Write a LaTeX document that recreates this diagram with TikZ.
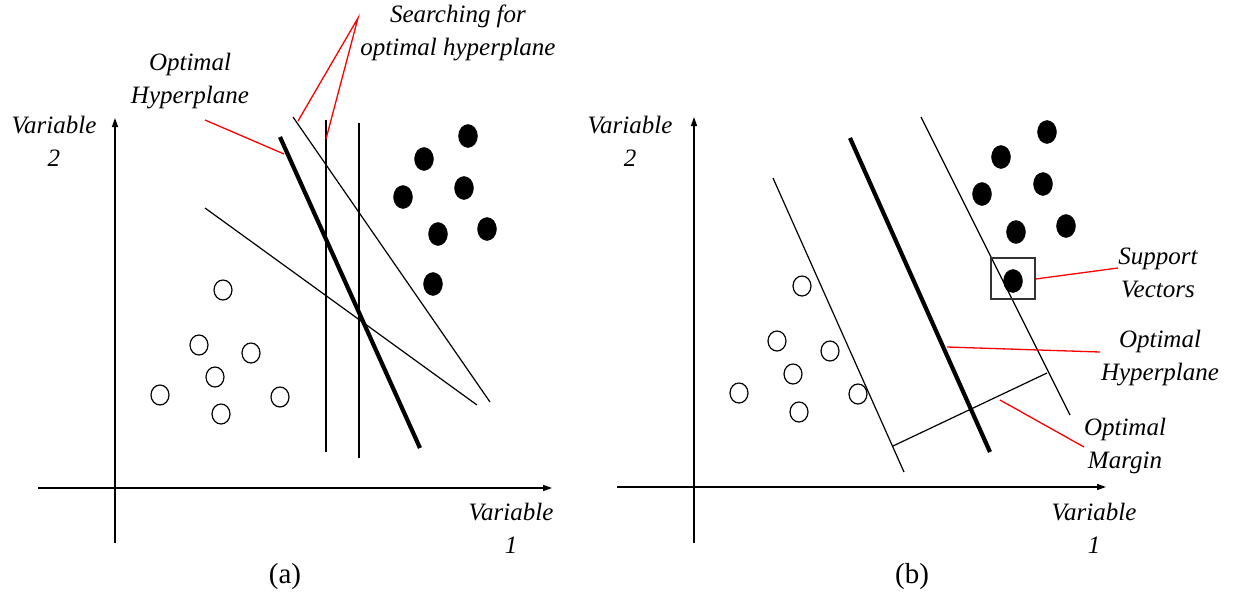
\documentclass[tikz,border=0pt]{standalone}
\usepackage{fontspec}
\setmainfont{Liberation Serif}
\usetikzlibrary{arrows.meta,shapes.geometric}
\begin{document}
\begin{tikzpicture}[x=1pt,y=-1pt,
  axis/.style={line width=1.4pt,-{Triangle[length=9pt,width=6pt]}},
  thinline/.style={line width=1.2pt},
  thickline/.style={line width=4.2pt},
  leader/.style={red,line width=1.3pt},
  lbl/.style={font=\fontsize{25}{33}\selectfont\itshape,align=center,inner sep=0pt},
  captxt/.style={font=\fontsize{29}{33}\selectfont,inner sep=0pt},
  posdot/.style={fill=black,draw=black,ellipse,minimum width=19pt,minimum height=23pt,inner sep=0pt},
  negdot/.style={draw=black,line width=1.2pt,ellipse,minimum width=18pt,minimum height=20pt,inner sep=0pt}]
\useasboundingbox[fill=white] (0,0) rectangle (1235,595);

% ---------- panel (a) ----------
\coordinate (ay0) at (115,543); \coordinate (ay1) at (115,118);
\coordinate (ax0) at (38,488); \coordinate (ax1) at (552,488);
\draw[axis] (ay0) -- (ay1);
\draw[axis] (ax0) -- (ax1);

\coordinate (aT1) at (280,137); \coordinate (aT2) at (420,448);
\draw[thickline] (aT1) -- (aT2);
\coordinate (aS1) at (293,117); \coordinate (aS2) at (490,402);
\draw[thinline] (aS1) -- (aS2);
\coordinate (aV1) at (326,120); \coordinate (aV2) at (326,452);
\draw[thinline] (aV1) -- (aV2);
\coordinate (aW1) at (359,123); \coordinate (aW2) at (359,458);
\draw[thinline] (aW1) -- (aW2);
\coordinate (aD1) at (205,208); \coordinate (aD2) at (477,405);
\draw[thinline] (aD1) -- (aD2);

\foreach \n/\x/\y in {a1/468/136,a2/424/159,a3/464/188,a4/403/197,a5/438/234,a6/487/229,a7/433/284}
  \node[posdot] (\n) at (\x,\y) {};
\foreach \n/\x/\y in {ao1/223/290,ao2/199/345,ao3/251/353,ao4/215/377,ao5/160/395,ao6/280/397,ao7/221/414}
  \node[negdot] (\n) at (\x,\y) {};

\node[lbl] (av2) at (54,141) {Variable\\2};
\node[lbl] (av1) at (511,528) {Variable\\1};
\node[captxt] (capa) at (285,577) {(a)};
\node[lbl] (aopt) at (190,81) {Optimal\\Hyperplane};
\node[lbl] (asrch) at (458,33) {Searching for\\optimal hyperplane};

\coordinate (aoptL) at (205,120); \coordinate (aoptE) at (284,154);
\draw[leader] (aoptL) -- (aoptE);
\coordinate (asr) at (358,18);
\coordinate (asrA) at (298,121); \coordinate (asrB) at (326,139);
\draw[leader] (asrA) -- (asr) -- (asrB);

% ---------- panel (b) ----------
\coordinate (by0) at (694,543); \coordinate (by1) at (694,117);
\coordinate (bx0) at (617,487); \coordinate (bx1) at (1106,487);
\draw[axis] (by0) -- (by1);
\draw[axis] (bx0) -- (bx1);

\coordinate (bL1) at (773,178); \coordinate (bL2) at (904,472);
\draw[thinline] (bL1) -- (bL2);
\coordinate (bT1) at (850,138); \coordinate (bT2) at (990,452);
\draw[thickline] (bT1) -- (bT2);
\coordinate (bR1) at (921,117); \coordinate (bR2) at (1070,415);
\draw[thinline] (bR1) -- (bR2);
\coordinate (bM1) at (893,446); \coordinate (bM2) at (1047,373);
\draw[thinline] (bM1) -- (bM2);

\foreach \n/\x/\y in {b1/1047/132,b2/1001/157,b3/1043/184,b4/982/194,b5/1016/232,b6/1066/226,b7/1013/281}
  \node[posdot] (\n) at (\x,\y) {};
\foreach \n/\x/\y in {bo1/802/286,bo2/777/341,bo3/830/351,bo4/793/374,bo5/739/393,bo6/858/394,bo7/799/412}
  \node[negdot] (\n) at (\x,\y) {};

\node[draw=black!80,line width=1.2pt,minimum width=44pt,minimum height=41pt,inner sep=0pt] (box) at (1013,278.5) {};

\node[lbl] (bv2) at (630,141) {Variable\\2};
\node[lbl] (bv1) at (1094,528) {Variable\\1};
\node[captxt] (capb) at (912,577) {(b)};
\node[lbl] (bsv) at (1158,273) {Support\\Vectors};
\node[lbl] (bopt) at (1160,358) {Optimal\\Hyperplane};
\node[lbl] (bmar) at (1125,446) {Optimal\\Margin};

\coordinate (bsvL) at (1118,268);
\draw[leader] (box.east |- 0,279) -- (bsvL);
\coordinate (boptA) at (947,347); \coordinate (boptL) at (1100,352);
\draw[leader] (boptA) -- (boptL);
\coordinate (bmarA) at (1000,400); \coordinate (bmarL) at (1084,447);
\draw[leader] (bmarA) -- (bmarL);
\end{tikzpicture}
\end{document}
